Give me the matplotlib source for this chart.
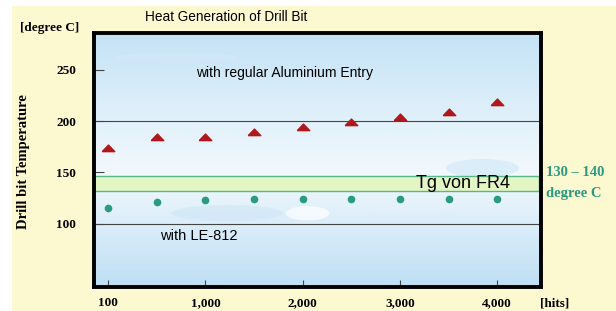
import numpy as np
import matplotlib
matplotlib.use('Agg')
import matplotlib.pyplot as plt
from matplotlib.patches import Rectangle, Ellipse

# Data
hits_labels = ['100', '1,000', '2,000', '3,000', '4,000']
hits_label_pos = [0, 2, 4, 6, 8]
aluminium_temp = [174, 184, 184, 189, 194, 199, 204, 209, 219]   # triangles
le812_temp = [115, 121, 123, 124, 124, 124, 124, 124, 124]        # circles
y_ticks = [100, 150, 200, 250]
ref_lines = [100, 200]
tg_band = (132, 146)

x = np.arange(len(aluminium_temp))

SERIF = ['Liberation Serif', 'DejaVu Serif']
SANS = ['Liberation Sans', 'DejaVu Sans']
TEAL = '#2a9a82'

# flat triangle marker like the slide
tri = [(-1, -0.5), (1, -0.5), (0, 0.55), (-1, -0.5)]

fig = plt.figure(figsize=(6.16, 3.11), dpi=100)
fig.patch.set_facecolor('white')
# yellow slide background
fig.patches.append(Rectangle((12 / 616, 0), 1, 1 - 6 / 311, transform=fig.transFigure,
                             facecolor='#fcf8d0', edgecolor='none', zorder=-10))

ax = fig.add_axes([94 / 616, 1 - 287 / 311, (541 - 94) / 616, (287 - 33) / 311])
ax.set_xlim(-0.29, 8.9)
ax.set_ylim(38, 286)

# sky gradient
top = np.array([0.77, 0.89, 0.965])
mid = np.array([0.95, 0.975, 0.99])
bot = np.array([0.75, 0.875, 0.96])
t = np.linspace(0, 1, 200)[:, None]
col = np.where(t < 0.55, top + (mid - top) * (t / 0.55),
               mid + (bot - mid) * ((t - 0.55) / 0.45))
img = col[:, None, :].repeat(2, axis=1)
ax.imshow(img, extent=[-0.29, 8.9, 38, 286], aspect='auto', zorder=0)

# faint clouds
for cx, cy, w, h, c in [(2.45, 110, 2.3, 16, '#d3e8f7'), (1.4, 262, 2.5, 10, '#d2e8f7'),
                        (7.7, 154, 1.5, 18, '#d8ecf8'), (6.2, 116, 2.0, 9, '#e6f2fa'),
                        (4.1, 110, 0.9, 14, '#f8fcfe')]:
    ax.add_patch(Ellipse((cx, cy), w, h, facecolor=c, edgecolor='none', alpha=0.85, zorder=0.5))

for yv in ref_lines:
    ax.axhline(yv, color='#444444', lw=0.8, zorder=1)

ax.add_patch(Rectangle((-0.29, tg_band[0]), 8.85 + 0.29, tg_band[1] - tg_band[0],
                       facecolor='#e4f5c4', edgecolor='#58b88a', lw=1.0, zorder=1.5))

ax.plot(x, aluminium_temp, linestyle='none', marker=tri, markersize=9,
        color='#b0181c', zorder=3)
ax.plot(x, le812_temp, linestyle='none', marker='o', markersize=4.5,
        color=TEAL, zorder=3)

ax.text(1.8, 247, 'with regular Aluminium Entry', fontsize=10, family=SANS,
        va='center', zorder=4)
ax.text(1.07, 88, 'with LE-812', fontsize=10.5, family=SANS, va='center', zorder=4)
ax.text(6.32, 139, 'Tg von FR4', fontsize=13, family=SANS, va='center', zorder=4)

for s in ax.spines.values():
    s.set_linewidth(2.8)
    s.set_color('black')
    s.set_zorder(5)

ax.set_yticks(y_ticks)
ax.set_yticklabels([str(v) for v in y_ticks], family=SERIF, fontweight='bold', fontsize=9.5)
ax.set_xticks(hits_label_pos)
ax.set_xticklabels(hits_labels, family=SERIF, fontweight='bold', fontsize=9.5)
ax.tick_params(axis='y', direction='in', length=7, width=0.8, pad=13, color='#444444')
ax.tick_params(axis='x', direction='in', length=5, width=0.8, pad=7, color='#444444')

fig.text(145 / 616, 1 - 17 / 311, 'Heat Generation of Drill Bit', fontsize=9.8,
         family=SANS, va='center')
fig.text(20 / 616, 1 - 28 / 311, '[degree C]', fontsize=9.5, family=SERIF,
         fontweight='bold', va='center')
fig.text(24 / 616, 1 - 162 / 311, 'Drill bit Temperature', fontsize=10.5, family=SERIF,
         fontweight='bold', rotation=90, va='center', ha='center')
fig.text(546 / 616, 1 - 172 / 311, '130 \u2013 140', fontsize=10.5, family=SERIF,
         fontweight='bold', color=TEAL, va='center')
fig.text(546 / 616, 1 - 194 / 311, 'degree C', fontsize=10.5, family=SERIF,
         fontweight='bold', color=TEAL, va='center')
fig.text(540 / 616, 1 - 304 / 311, '[hits]', fontsize=9.5, family=SERIF,
         fontweight='bold', va='center')

fig.savefig('out.png', dpi=100)
